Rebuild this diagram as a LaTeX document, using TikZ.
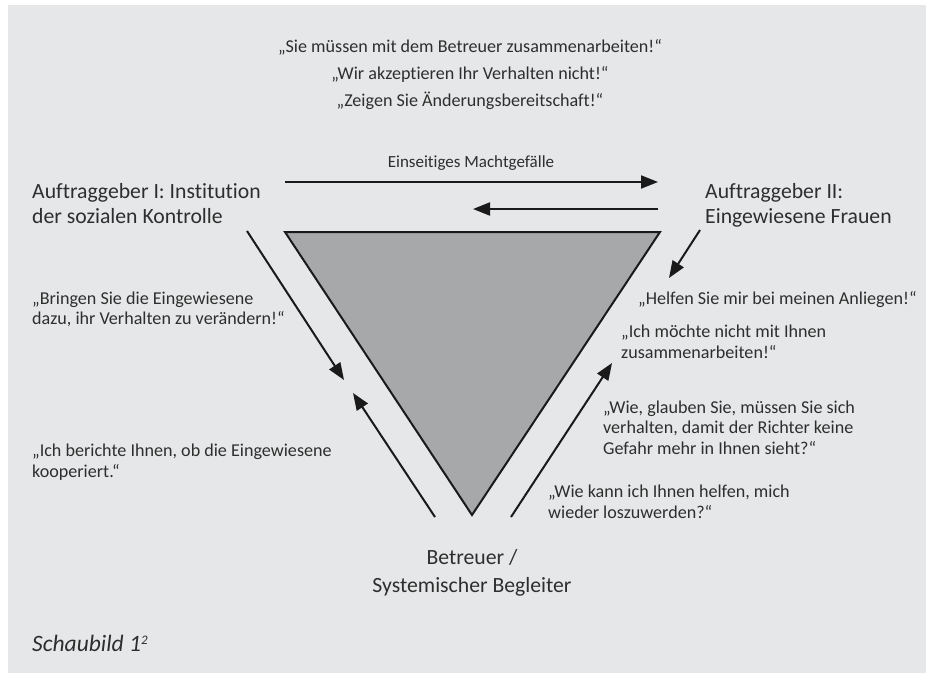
\documentclass[tikz,border=0pt]{standalone}
\usepackage{fontspec}
\setmainfont{Carlito}[Ligatures=NoCommon]
\usetikzlibrary{arrows.meta}
\definecolor{bg}{HTML}{E6E7E8}
\definecolor{tri}{HTML}{A7A8AA}
\definecolor{txt}{HTML}{2E2E2E}
\definecolor{ln}{HTML}{1A1A1A}
\begin{document}
\begin{tikzpicture}[x=1pt,y=-1pt,
  quote/.style={font=\fontsize{18.1}{20.5}\selectfont, text=txt, inner sep=0pt, align=left, anchor=base west},
  toptext/.style={font=\fontsize{18.1}{20.5}\selectfont, text=txt, inner sep=0pt, anchor=base},
  party/.style={font=\fontsize{21.7}{25.5}\selectfont, text=txt, inner sep=0pt, align=left, anchor=base west},
  arr/.style={line width=2pt, draw=ln, -{Triangle[length=17pt,width=13pt]}}
]
\useasboundingbox (0,0) rectangle (926,673);
\fill[white] (0,0) rectangle (926,673);
\fill[bg] (8,5) rectangle (926,673);

% triangle
\draw[fill=tri, draw=ln, line width=2pt] (285,232) -- (660,232) -- (472,515) -- cycle;

% top quotes
\node[toptext] (q1) at (470,52.5) {„Sie müssen mit dem Betreuer zusammenarbeiten!“};
\node[toptext] (q2) at (470,79.5) {„Wir akzeptieren Ihr Verhalten nicht!“};
\node[toptext] (q3) at (470,106.5) {„Zeigen Sie Änderungsbereitschaft!“};

\node[toptext, font=\fontsize{17}{20}\selectfont] (macht) at (471,167) {Einseitiges Machtgefälle};

% parties (anchor = baseline of last line)
\node[party] (ag1) at (32,223.5) {Auftraggeber I: Institution\\der sozialen Kontrolle};
\node[party] (ag2) at (705,223.5) {Auftraggeber II:\\Eingewiesene Frauen};
\node[party, font=\fontsize{21.7}{28}\selectfont, align=center, anchor=base] (bt) at (472,592) {Betreuer /\\Systemischer Begleiter};

% left quotes
\node[quote] (ql1) at (32,324.5) {„Bringen Sie die Eingewiesene\\dazu, ihr Verhalten zu verändern!“};
\node[quote] (ql2) at (32,477) {„Ich berichte Ihnen, ob die Eingewiesene\\kooperiert.“};

% right quotes
\node[quote] (qr1) at (638,304) {„Helfen Sie mir bei meinen Anliegen!“};
\node[quote] (qr2) at (621,358) {„Ich möchte nicht mit Ihnen\\zusammenarbeiten!“};
\node[quote] (qr3) at (603,454) {„Wie, glauben Sie, müssen Sie sich\\verhalten, damit der Richter keine\\Gefahr mehr in Ihnen sieht?“};
\node[quote] (qr4) at (548,518) {„Wie kann ich Ihnen helfen, mich\\wieder loszuwerden?“};

\node[party, font=\fontsize{23.5}{28}\selectfont\itshape] (cap) at (32,651) {Schaubild 1\raisebox{7pt}{\fontsize{13}{13}\selectfont 2}};

% arrow end points
\coordinate (h1s) at (285,182);
\coordinate (h1e) at (658,182);
\coordinate (h2s) at (658,209);
\coordinate (h2e) at (473,209);
\coordinate (l1s) at (247,231);
\coordinate (l1e) at (344,380);
\coordinate (l2s) at (435,517);
\coordinate (l2e) at (353,393);
\coordinate (r1s) at (700,230);
\coordinate (r1e) at (669,278);
\coordinate (r2s) at (511,517);
\coordinate (r2e) at (612,363);

\draw[arr] (h1s) -- (h1e);
\draw[arr] (h2s) -- (h2e);
\draw[arr] (l1s) -- (l1e);
\draw[arr] (l2s) -- (l2e);
\draw[arr] (r1s) -- (r1e);
\draw[arr] (r2s) -- (r2e);
\end{tikzpicture}
\end{document}
